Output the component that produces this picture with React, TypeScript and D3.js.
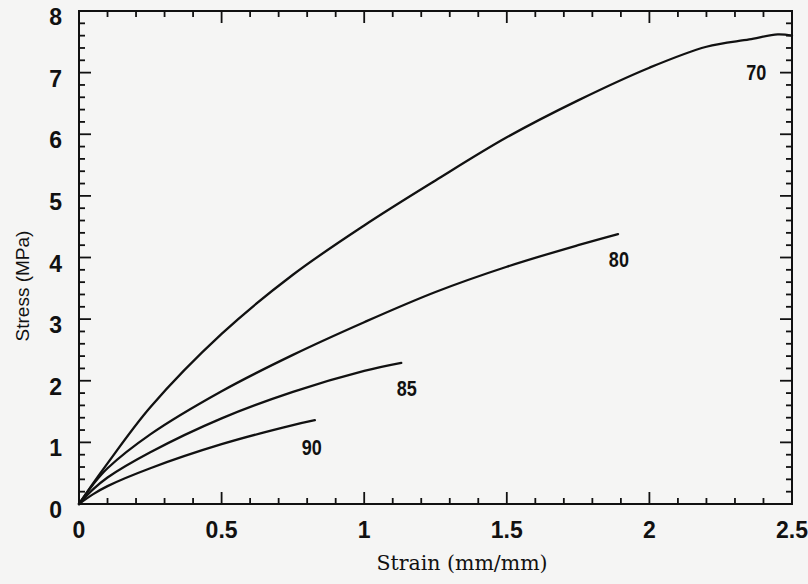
import React from "react";
import * as d3 from "d3";

// Stress–strain curves for four specimens (labels 70, 80, 85, 90)
const strain70 = [0, 0.05, 0.1, 0.25, 0.5, 0.75, 1.0, 1.25, 1.5, 1.75, 2.0, 2.2, 2.35, 2.45, 2.5];
const stress70 = [0, 0.34, 0.66, 1.57, 2.76, 3.72, 4.52, 5.25, 5.95, 6.55, 7.08, 7.42, 7.54, 7.62, 7.6];

const strain80 = [0, 0.05, 0.1, 0.25, 0.5, 0.75, 1.0, 1.25, 1.5, 1.75, 1.89];
const stress80 = [0, 0.32, 0.58, 1.13, 1.83, 2.42, 2.95, 3.44, 3.85, 4.2, 4.38];

const strain85 = [0, 0.05, 0.1, 0.25, 0.5, 0.75, 1.0, 1.13];
const stress85 = [0, 0.24, 0.43, 0.84, 1.39, 1.82, 2.16, 2.29];

const strain90 = [0, 0.05, 0.1, 0.25, 0.5, 0.75, 0.827];
const stress90 = [0, 0.16, 0.29, 0.58, 0.97, 1.28, 1.36];

const curveNames = ["70", "80", "85", "90"];
// label anchor points (strain, stress) for each curve name, at the text baseline
const labelStrain = [2.375, 1.893, 1.149, 0.816];
const labelStress = [6.88, 3.85, 1.76, 0.8];

const xTickValues = [0, 0.5, 1, 1.5, 2, 2.5];
const xTickLabels = ["0", "0.5", "1", "1.5", "2", "2.5"];
const yTickValues = [0, 1, 2, 3, 4, 5, 6, 7, 8];

const xTitle = "Strain (mm/mm)";
const yTitle = "Stress (MPa)";

const W = 808;
const H = 584;
const left = 79;
const right = 792;
const top = 11;
const bottom = 504;

export default function App() {
  const x = d3.scaleLinear().domain([0, 2.5]).range([left, right]);
  const y = d3.scaleLinear().domain([0, 8]).range([bottom, top]);

  const series = [
    { xs: strain70, ys: stress70 },
    { xs: strain80, ys: stress80 },
    { xs: strain85, ys: stress85 },
    { xs: strain90, ys: stress90 },
  ];

  const line = d3
    .line<[number, number]>()
    .x((d) => x(d[0]))
    .y((d) => y(d[1]))
    .curve(d3.curveCatmullRom.alpha(0.5));

  const xMinor = d3.range(0, 26).map((i) => i / 10);
  const yMinor = d3.range(0, 41).map((i) => i / 5);

  const isMajorX = (v: number) => Math.abs(v * 2 - Math.round(v * 2)) < 1e-6;
  const isMajorY = (v: number) => Math.abs(v - Math.round(v)) < 1e-6;

  const ink = "#111";
  const tickFont = "'Liberation Sans', Arial, sans-serif";

  return (
    <svg
      width={W}
      height={H}
      style={{ position: "fixed", left: 0, top: 0, background: "#f5f5f4" }}
    >
      {/* frame */}
      <rect
        x={left}
        y={top}
        width={right - left}
        height={bottom - top}
        fill="none"
        stroke={ink}
        strokeWidth={2}
      />

      {/* inward ticks on bottom and top */}
      {xMinor.map((v, i) => {
        const len = isMajorX(v) ? 12 : 6;
        const px = x(v);
        return (
          <g key={"xt" + i}>
            <line x1={px} x2={px} y1={bottom} y2={bottom - len} stroke={ink} strokeWidth={1.8} />
            <line x1={px} x2={px} y1={top} y2={top + len} stroke={ink} strokeWidth={1.8} />
          </g>
        );
      })}

      {/* inward ticks on left and right */}
      {yMinor.map((v, i) => {
        const len = isMajorY(v) ? 12 : 6;
        const py = y(v);
        return (
          <g key={"yt" + i}>
            <line x1={left} x2={left + len} y1={py} y2={py} stroke={ink} strokeWidth={1.8} />
            <line x1={right} x2={right - len} y1={py} y2={py} stroke={ink} strokeWidth={1.8} />
          </g>
        );
      })}

      {/* tick labels */}
      {xTickValues.map((v, i) => (
        <text
          key={"xl" + i}
          x={x(v)}
          y={538}
          textAnchor="middle"
          fontFamily={tickFont}
          fontWeight="bold"
          fontSize={23}
          fill={ink}
        >
          {xTickLabels[i]}
        </text>
      ))}
      {yTickValues.map((v, i) => (
        <text
          key={"yl" + i}
          x={62}
          y={y(v) + 14}
          textAnchor="end"
          fontFamily={tickFont}
          fontWeight="bold"
          fontSize={23}
          fill={ink}
        >
          {String(v)}
        </text>
      ))}

      {/* curves */}
      {series.map((s, i) => (
        <path
          key={"c" + i}
          d={line(s.xs.map((v, j) => [v, s.ys[j]] as [number, number])) || ""}
          fill="none"
          stroke={ink}
          strokeWidth={2.3}
          strokeLinejoin="round"
          strokeLinecap="round"
        />
      ))}

      {/* curve names */}
      {curveNames.map((n, i) => (
        <text
          key={"n" + i}
          transform={`translate(${x(labelStrain[i])},${y(labelStress[i])}) scale(0.82,1)`}
          textAnchor="middle"
          fontFamily={tickFont}
          fontWeight="bold"
          fontSize={22}
          fill={ink}
        >
          {n}
        </text>
      ))}

      {/* axis titles */}
      <text
        x={462}
        y={570}
        textAnchor="middle"
        fontFamily="'DejaVu Serif', serif"
        fontSize={20.5}
        fill={ink}
      >
        {xTitle}
      </text>
      <text
        transform="translate(29,286) rotate(-90)"
        textAnchor="middle"
        fontFamily={tickFont}
        fontSize={19}
        fill={ink}
      >
        {yTitle}
      </text>
    </svg>
  );
}
